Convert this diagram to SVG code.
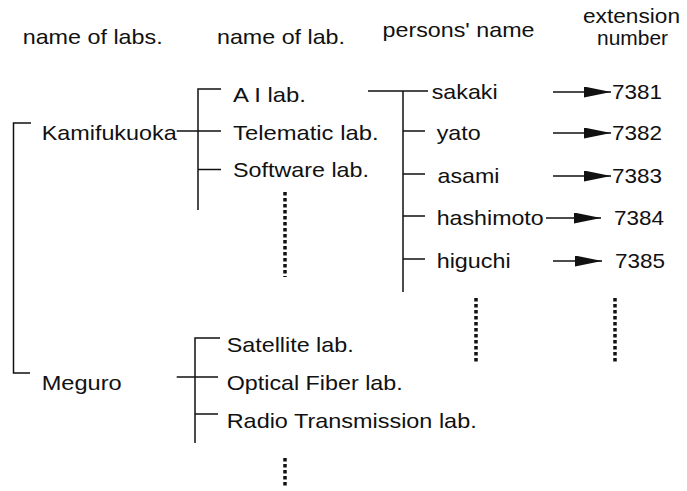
<svg xmlns="http://www.w3.org/2000/svg" width="687" height="491" viewBox="0 0 687 491">
<defs>
<style>
text{font-family:"Liberation Sans",Arial,sans-serif;font-size:21px;fill:#111}
.ln{stroke:#111;stroke-width:1.5;fill:none}
.dots{stroke:#111;stroke-width:3.5;stroke-dasharray:3.5 2.5;fill:none}
.ar{stroke:#111;stroke-width:1.3;fill:none;marker-end:url(#ah)}
</style>
<marker id="ah" markerWidth="27" markerHeight="11" refX="27" refY="5.5" orient="auto" markerUnits="userSpaceOnUse">
<path d="M0,0 L27,5.5 L0,11 Z" fill="#111"/>
</marker>
</defs>
<rect width="687" height="491" fill="#fff"/>
<g id="headers">
<text x="22.7" y="44" textLength="140" lengthAdjust="spacingAndGlyphs">name of labs.</text>
<text x="217" y="43.5" textLength="128" lengthAdjust="spacingAndGlyphs">name of lab.</text>
<text x="382.5" y="37" textLength="152" lengthAdjust="spacingAndGlyphs">persons' name</text>
<text x="583" y="23" textLength="97" lengthAdjust="spacingAndGlyphs">extension</text>
<text x="597" y="45" textLength="71" lengthAdjust="spacingAndGlyphs">number</text>
</g>
<g id="kamifukuoka"><text x="41.7" y="139.5" textLength="135" lengthAdjust="spacingAndGlyphs">Kamifukuoka</text></g>
<g id="meguro"><text x="41.7" y="390" textLength="80" lengthAdjust="spacingAndGlyphs">Meguro</text></g>
<g id="ai-lab"><text x="233" y="102" textLength="73" lengthAdjust="spacingAndGlyphs">A I lab.</text></g>
<g id="telematic-lab"><text x="233" y="139.5" textLength="145.5" lengthAdjust="spacingAndGlyphs">Telematic lab.</text></g>
<g id="software-lab"><text x="233" y="177" textLength="136" lengthAdjust="spacingAndGlyphs">Software lab.</text></g>
<g id="satellite-lab"><text x="226.7" y="352" textLength="127" lengthAdjust="spacingAndGlyphs">Satellite lab.</text></g>
<g id="optical-lab"><text x="226.7" y="390" textLength="176" lengthAdjust="spacingAndGlyphs">Optical Fiber lab.</text></g>
<g id="radio-lab"><text x="226.7" y="428" textLength="250" lengthAdjust="spacingAndGlyphs">Radio Transmission lab.</text></g>
<g id="sakaki"><text x="431.7" y="99" textLength="66" lengthAdjust="spacingAndGlyphs">sakaki</text></g>
<g id="yato"><text x="436.7" y="140" textLength="44" lengthAdjust="spacingAndGlyphs">yato</text></g>
<g id="asami"><text x="437.5" y="183" textLength="62" lengthAdjust="spacingAndGlyphs">asami</text></g>
<g id="hashimoto"><text x="436.7" y="225" textLength="107" lengthAdjust="spacingAndGlyphs">hashimoto</text></g>
<g id="higuchi"><text x="436.7" y="268" textLength="74" lengthAdjust="spacingAndGlyphs">higuchi</text></g>
<g id="n7381"><text x="612" y="99" textLength="50" lengthAdjust="spacingAndGlyphs">7381</text></g>
<g id="n7382"><text x="612" y="140" textLength="50" lengthAdjust="spacingAndGlyphs">7382</text></g>
<g id="n7383"><text x="612" y="183" textLength="50" lengthAdjust="spacingAndGlyphs">7383</text></g>
<g id="n7384"><text x="614" y="225" textLength="50" lengthAdjust="spacingAndGlyphs">7384</text></g>
<g id="n7385"><text x="615" y="268" textLength="50" lengthAdjust="spacingAndGlyphs">7385</text></g>
<g id="connectors">
<path class="ln" d="M31,123 H13.5 V373 H30"/>
<path class="ln" d="M221,89 H198 V210 M176.7,131 H221 M198,169.5 H221"/>
<path class="ln" d="M220,338 H195 V443 M176.7,377 H218 M195,414 H218"/>
<path class="ln" d="M368,91 H428 M403,91 V292 M403,131 H425 M403,174 H425 M403,216 H425 M403,259 H425"/>
<path class="ar" d="M553,92 H611"/>
<path class="ar" d="M553,133 H611"/>
<path class="ar" d="M553,176 H611"/>
<path class="ar" d="M546,218 H601"/>
<path class="ar" d="M553,261 H602"/>
<path class="dots" d="M285,192 V277 M285,458 V488 M476,298 V364 M615,298 V364"/>
</g>
</svg>
